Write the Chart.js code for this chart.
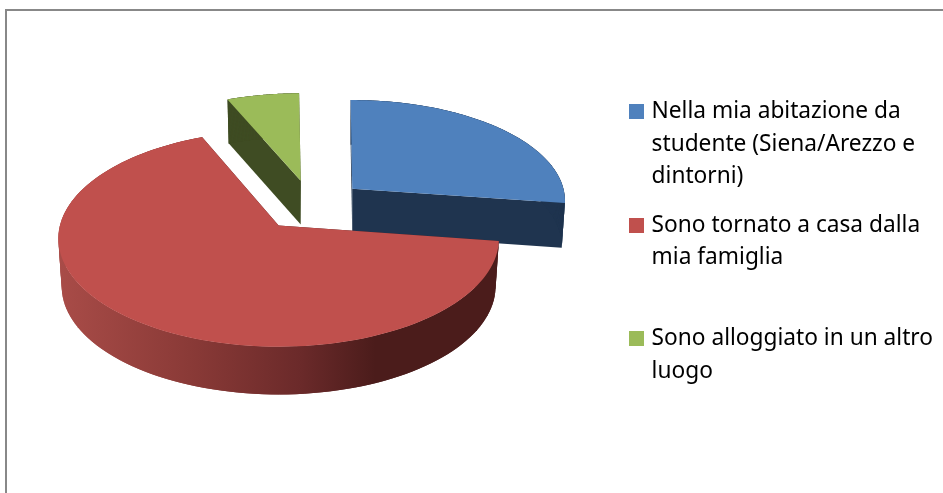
<!DOCTYPE html>
<html>
<head>
<meta charset="utf-8">
<title>Alloggio</title>
<script src="https://cdn.jsdelivr.net/npm/chart.js@4/dist/chart.umd.js"></script>
<style>
  html, body { margin: 0; background: #fff; overflow: hidden; }
  #frame { position: absolute; left: 5px; top: 9px; width: 960px; height: 520px; border: 2px solid #888; }
  canvas { position: absolute; left: 0; top: 0; }
</style>
</head>
<body>
<div id="frame"></div>
<canvas id="chart" width="943" height="493"></canvas>
<script>
const categories = [
  ['Nella mia abitazione da', 'studente (Siena/Arezzo e', 'dintorni)'],
  ['Sono tornato a casa dalla', 'mia famiglia', ''],
  ['Sono alloggiato in un altro', 'luogo'],
];
const shares = [27.4, 66.4, 6.2];
const topColors = ['#4f81bd', '#c0504d', '#9bbb59'];
const sideColors = ['#1f344f', '#4b1c1b', '#3f4c23'];

// how the flat pie is tilted
const flatten = 0.478;
const explodeFlatten = 0.47;
const perspective = 0.12;
const explodePerspective = 0.08;
const depth = 46;
const bottomShrink = 0.985;
const lift = 41;

function legendSwatch(color) {
  const c = document.createElement('canvas');
  c.width = 15;
  c.height = 15;
  const g = c.getContext('2d');
  g.fillStyle = color;
  g.fillRect(0, 0, 15, 15);
  return c;
}

function projector(arc, offset) {
  const mid = (arc.startAngle + arc.endAngle) / 2;
  const ax = arc.x + offset * Math.cos(mid);
  const ay = arc.y - lift + offset * explodeFlatten * Math.sin(mid);
  const scale = 1 / (1 - explodePerspective * (offset / arc.outerRadius) * Math.sin(mid) * 1.2);
  const r = arc.outerRadius * scale;
  return function (angle, rad, low) {
    const u = Math.cos(angle) * rad;
    const v = Math.sin(angle) * rad;
    const w = 1 - perspective * v;
    const shrink = low ? bottomShrink : 1;
    const down = low ? depth * scale * scale : 0;
    return { x: ax + r * u / w * shrink, y: ay + r * scale * flatten * v / w + down };
  };
}

function arcPoints(project, start, end, low) {
  const pts = [];
  const steps = 120;
  for (let i = 0; i <= steps; i++) {
    pts.push(project(start + (end - start) * i / steps, 1, low));
  }
  return pts;
}

function fillPath(ctx, pts, fill) {
  ctx.beginPath();
  pts.forEach((p, i) => (i ? ctx.lineTo(p.x, p.y) : ctx.moveTo(p.x, p.y)));
  ctx.closePath();
  ctx.fillStyle = fill;
  ctx.fill();
}

// the pie's own draw is replaced: arcs come from the controller, only projected
const pie3d = {
  id: 'pie3d',
  beforeDatasetDraw(chart, args) {
    const ctx = chart.ctx;
    const arcs = args.meta.data;
    // far slices first, the big red one on top
    [2, 0, 1].forEach(i => {
      const arc = arcs[i].getProps(['x', 'y', 'startAngle', 'endAngle', 'outerRadius'], true);
      const project = projector(arc, arcs[i].options.offset);
      const apexTop = project(0, 0, false);
      const apexLow = project(0, 0, true);
      const side = sideColors[i];

      [arc.startAngle, arc.endAngle].forEach(a => {
        fillPath(ctx, [apexTop, project(a, 1, false), project(a, 1, true), apexLow], side);
      });

      let wall = side;
      if (i === 1) {
        wall = ctx.createLinearGradient(57, 0, 499, 0);
        wall.addColorStop(0, '#a94c48');
        wall.addColorStop(0.3, '#8a3a37');
        wall.addColorStop(0.55, '#6b2a2a');
        wall.addColorStop(0.72, '#4b1c1b');
        wall.addColorStop(1, '#4b1c1b');
      }
      const outer = arcPoints(project, arc.startAngle, arc.endAngle, false);
      const inner = arcPoints(project, arc.startAngle, arc.endAngle, true);
      // wall goes on in overlapping strips, one polygon would leave a notch at the silhouette
      for (let s = 0; s < outer.length - 1; s++) {
        const e = Math.min(s + 2, outer.length - 1);
        fillPath(ctx, [outer[s], outer[e], inner[e], inner[s]], wall);
      }

      fillPath(ctx, [apexTop].concat(outer), topColors[i]);
    });
    return false;
  },
};

new Chart(document.getElementById('chart'), {
  type: 'pie',
  data: {
    labels: categories,
    datasets: [{
      data: shares,
      backgroundColor: topColors,
      borderWidth: 0,
      radius: 214.5,
      offset: 54,
      hoverOffset: 0,
    }],
  },
  options: {
    responsive: false,
    animation: false,
    rotation: -0.5,
    layout: { padding: { left: 7, bottom: 0 } },
    plugins: {
      tooltip: { enabled: false },
      legend: {
        position: 'right',
        align: 'center',
        labels: {
          color: '#111',
          font: { family: 'Noto Sans', size: 22.7, lineHeight: 1.432 },
          padding: 16,
          boxWidth: 8,
          usePointStyle: true,
          pointStyleWidth: 8,
          generateLabels: chart => categories.map((text, i) => ({
            text: text,
            fillStyle: topColors[i],
            lineWidth: 0,
            pointStyle: legendSwatch(topColors[i]),
            index: i,
          })),
        },
      },
    },
  },
  plugins: [pie3d],
});
</script>
</body>
</html>
